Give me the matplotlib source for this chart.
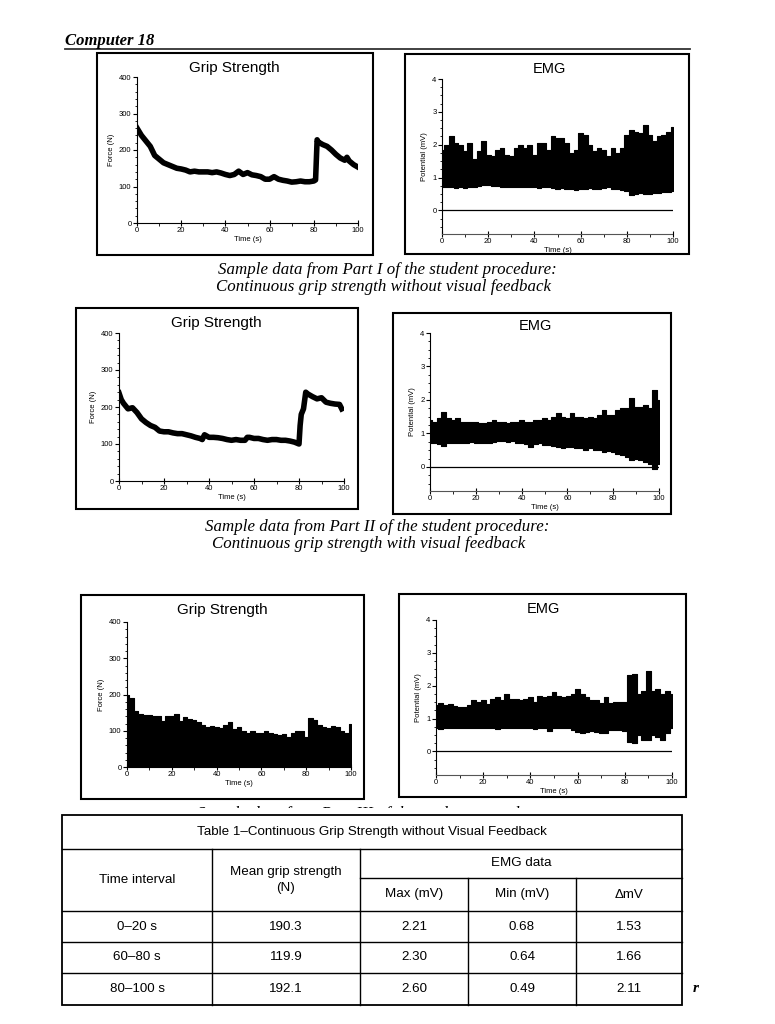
import numpy as np
import matplotlib.pyplot as plt
from matplotlib.patches import Rectangle
from matplotlib.ticker import MultipleLocator

plt.rcParams['font.family'] = ['Liberation Sans', 'DejaVu Sans']

# --- data ---
# Part I grip strength (N)
g1_t = [0, 2, 4, 6, 8, 10, 12, 14, 16, 18, 20, 22, 24, 26, 28, 30, 32, 34, 36, 38,
        40, 42, 44, 46, 48, 50, 52, 54, 56, 58, 60, 62, 64, 66, 68, 70, 72, 74, 76, 78,
        80, 80.8, 81.5, 82, 84, 86, 88, 90, 92, 94, 95, 96, 98, 100]
g1_f = [260, 240, 225, 210, 185, 175, 165, 160, 155, 150, 148, 145, 140, 142, 140, 140, 140, 138, 140, 137,
        133, 130, 133, 142, 133, 138, 132, 130, 127, 120, 120, 127, 120, 117, 115, 112, 113, 115, 113, 113,
        115, 118, 228, 222, 215, 210, 200, 188, 178, 172, 180, 170, 160, 153]

# Part II grip strength (N)
g2_t = [0, 1, 2, 4, 6, 8, 10, 12, 14, 16, 18, 20, 22, 24, 26, 28, 30, 32, 34, 36, 37, 38,
        40, 42, 44, 46, 48, 50, 52, 54, 56, 57, 58, 60, 62, 64, 66, 68, 70, 72, 74, 76, 78, 80,
        80.5, 81, 82, 83, 84, 86, 88, 90, 92, 94, 96, 98, 99]
g2_f = [238, 220, 210, 195, 198, 185, 168, 158, 150, 145, 135, 133, 133, 130, 128, 128, 125, 122, 118, 115, 112, 125,
        118, 118, 117, 115, 112, 110, 112, 110, 110, 118, 118, 115, 115, 112, 110, 112, 112, 110, 110, 108, 105, 100,
        150, 180, 195, 240, 235, 228, 222, 225, 213, 210, 208, 207, 195]

# 2 s grid for the dense traces
t2 = np.arange(0, 101, 2)

# Part III grip strength, upper envelope of the filled trace (N)
g3_top = [200, 190, 155, 145, 143, 143, 140, 140, 128, 140,
          140, 145, 128, 137, 133, 130, 125, 115, 110, 112,
          110, 108, 115, 125, 105, 110, 100, 95, 100, 93,
          95, 98, 95, 92, 87, 92, 82, 95, 98, 100,
          82, 135, 130, 115, 110, 108, 112, 110, 100, 95, 118]

# EMG envelopes (mV)
e1_hi = [1.85, 2.0, 2.25, 2.05, 2.0, 1.8, 2.05, 1.55, 1.8, 2.1,
         1.7, 1.65, 1.85, 1.9, 1.7, 1.65, 1.9, 2.0, 1.9, 2.0,
         1.7, 2.05, 2.05, 1.85, 2.25, 2.2, 2.2, 2.05, 1.75, 1.85,
         2.35, 2.3, 2.0, 1.8, 1.9, 1.85, 1.65, 1.9, 1.75, 1.9,
         2.3, 2.45, 2.4, 2.35, 2.6, 2.3, 2.1, 2.25, 2.3, 2.4, 2.55]
e1_lo = [0.72, 0.7, 0.7, 0.68, 0.7, 0.68, 0.7, 0.72, 0.75, 0.78,
         0.78, 0.75, 0.73, 0.72, 0.72, 0.72, 0.72, 0.72, 0.7, 0.72,
         0.7, 0.68, 0.7, 0.7, 0.68, 0.66, 0.68, 0.65, 0.65, 0.62,
         0.65, 0.65, 0.68, 0.66, 0.65, 0.68, 0.7, 0.66, 0.66, 0.62,
         0.58, 0.48, 0.5, 0.52, 0.5, 0.5, 0.52, 0.52, 0.55, 0.55, 0.58]

e2_hi = [1.4, 1.35, 1.45, 1.65, 1.45, 1.4, 1.45, 1.35, 1.35, 1.35,
         1.35, 1.3, 1.3, 1.35, 1.4, 1.35, 1.35, 1.3, 1.35, 1.35,
         1.4, 1.35, 1.35, 1.4, 1.4, 1.45, 1.4, 1.5, 1.6, 1.5,
         1.45, 1.6, 1.5, 1.5, 1.45, 1.5, 1.45, 1.55, 1.7, 1.55,
         1.55, 1.7, 1.75, 1.75, 2.05, 1.8, 1.8, 1.85, 1.75, 2.3, 2.0]
e2_lo = [0.72, 0.7, 0.68, 0.62, 0.7, 0.7, 0.72, 0.72, 0.72, 0.75,
         0.72, 0.72, 0.72, 0.7, 0.75, 0.78, 0.78, 0.75, 0.78, 0.72,
         0.7, 0.68, 0.6, 0.68, 0.7, 0.65, 0.65, 0.62, 0.6, 0.55,
         0.6, 0.58, 0.55, 0.55, 0.5, 0.55, 0.5, 0.5, 0.45, 0.48,
         0.45, 0.4, 0.35, 0.3, 0.22, 0.25, 0.2, 0.15, 0.1, -0.05, 0.1]

e3_hi = [1.4, 1.48, 1.4, 1.45, 1.38, 1.35, 1.35, 1.4, 1.55, 1.5,
         1.55, 1.45, 1.6, 1.65, 1.55, 1.75, 1.6, 1.58, 1.55, 1.58,
         1.65, 1.5, 1.68, 1.65, 1.68, 1.8, 1.68, 1.65, 1.68, 1.75,
         1.9, 1.75, 1.65, 1.55, 1.55, 1.48, 1.65, 1.48, 1.5, 1.5,
         1.5, 2.32, 2.35, 1.75, 1.85, 2.45, 1.85, 1.9, 1.75, 1.85, 1.75]
e3_lo = [0.7, 0.68, 0.7, 0.72, 0.7, 0.7, 0.72, 0.72, 0.72, 0.72,
         0.72, 0.7, 0.72, 0.68, 0.7, 0.72, 0.72, 0.72, 0.7, 0.72,
         0.72, 0.68, 0.7, 0.7, 0.62, 0.7, 0.7, 0.72, 0.7, 0.65,
         0.6, 0.55, 0.58, 0.62, 0.6, 0.55, 0.55, 0.65, 0.65, 0.65,
         0.62, 0.28, 0.25, 0.5, 0.35, 0.35, 0.5, 0.45, 0.35, 0.55, 0.7]

# Table 1
table_title = 'Table 1–Continuous Grip Strength without Visual Feedback'
intervals = ['0–20 s', '60–80 s', '80–100 s']
mean_grip = [190.3, 119.9, 192.1]
emg_max = [2.21, 2.30, 2.60]
emg_min = [0.68, 0.64, 0.49]
emg_delta = [1.53, 1.66, 2.11]

captions = [
    ('Sample data from Part I of the student procedure:',
     'Continuous grip strength without visual feedback'),
    ('Sample data from Part II of the student procedure:',
     'Continuous grip strength with visual feedback'),
]

W, H = 775, 1024
fig = plt.figure(figsize=(W / 100, H / 100), dpi=100)

# page layer in pixel coordinates (frames, captions, table)
page = fig.add_axes([0, 0, 1, 1], zorder=-1)
page.set_xlim(0, W)
page.set_ylim(H, 0)
page.axis('off')


def add_axes_px(x0, x1, ytop, ybot):
    return fig.add_axes([x0 / W, 1 - ybot / H, (x1 - x0) / W, (ybot - ytop) / H])


def frame(x0, y0, x1, y1):
    page.add_patch(Rectangle((x0, y0), x1 - x0, y1 - y0, fill=False, lw=1.5, ec='black'))


def style(ax, kind):
    ax.spines['top'].set_visible(False)
    ax.spines['right'].set_visible(False)
    ax.set_xlim(0, 100)
    ax.xaxis.set_major_locator(MultipleLocator(20))
    ax.xaxis.set_minor_locator(MultipleLocator(10))
    if kind == 'grip':
        ax.set_ylim(0, 400)
        ax.yaxis.set_major_locator(MultipleLocator(100))
        ax.yaxis.set_minor_locator(MultipleLocator(20))
        ax.set_ylabel('Force (N)', fontsize=5.5, labelpad=3)
    else:
        ax.set_ylim(-0.72, 4)
        ax.yaxis.set_major_locator(MultipleLocator(1))
        ax.yaxis.set_minor_locator(MultipleLocator(0.25))
        ax.set_ylabel('Potential (mV)', fontsize=5.5, labelpad=3)
        ax.spines['bottom'].set_linestyle((0, (1, 1)))
        ax.spines['bottom'].set_color('#555555')
    ax.tick_params(labelsize=5.5, length=3, width=0.8, pad=1)
    ax.tick_params(axis='x', direction='inout', length=4)
    ax.tick_params(which='minor', length=1.8, width=0.6)
    ax.set_xlabel('Time (s)', fontsize=5.5, labelpad=1)
    ax.set_facecolor('none')


def grip_line(ax, t, f):
    ax.plot(t, f, color='black', lw=4.0, solid_joinstyle='round')


def emg_fill(ax, lo, hi):
    ax.fill_between(t2, lo, hi, step='mid', color='black', lw=0.8, ec='black')
    ax.hlines(0, 0, 100, color='black', lw=0.9)


# header
page.text(65, 45, 'Computer 18', family='Liberation Serif', weight='bold', style='italic',
          fontsize=12, va='baseline')
page.plot([65, 690], [49, 49], color='#333333', lw=1.3)

# ---- Part I ----
frame(97, 53, 373, 255)
ax = add_axes_px(137, 358, 77, 223)
style(ax, 'grip')
grip_line(ax, g1_t, g1_f)
page.text(234, 68, 'Grip Strength', fontsize=11, ha='center', va='center')

frame(405, 54, 689, 254)
ax = add_axes_px(442, 673, 79, 234)
style(ax, 'emg')
emg_fill(ax, e1_lo, e1_hi)
page.text(549, 69, 'EMG', fontsize=10.5, ha='center', va='center')

# ---- Part II ----
frame(76, 308, 358, 509)
ax = add_axes_px(119, 344, 333, 481)
style(ax, 'grip')
grip_line(ax, g2_t, g2_f)
page.text(216, 323, 'Grip Strength', fontsize=11, ha='center', va='center')

frame(393, 313, 671, 514)
ax = add_axes_px(430, 659, 333, 491)
style(ax, 'emg')
emg_fill(ax, e2_lo, e2_hi)
page.text(535, 326, 'EMG', fontsize=10.5, ha='center', va='center')

# ---- Part III ----
frame(81, 595, 364, 799)
ax = add_axes_px(127, 351, 622, 767)
style(ax, 'grip')
ax.fill_between(t2, 0, g3_top, step='mid', color='black', lw=0.8, ec='black')
page.text(222, 610, 'Grip Strength', fontsize=11, ha='center', va='center')

frame(399, 594, 686, 797)
ax = add_axes_px(436, 672, 620, 775)
style(ax, 'emg')
emg_fill(ax, e3_lo, e3_hi)
page.text(543, 609, 'EMG', fontsize=10.5, ha='center', va='center')

# captions
cap_y = [(270, 287), (527, 544)]
cap_x = [(387, 384), (377, 369)]
for (l1, l2), (y1, y2), (x1, x2) in zip(captions, cap_y, cap_x):
    page.text(x1, y1, l1, family='Liberation Serif', style='italic', fontsize=12.2, ha='center', va='center')
    page.text(x2, y2, l2, family='Liberation Serif', style='italic', fontsize=12.2, ha='center', va='center')
# third caption is almost entirely covered by the pasted table
page.text(372, 814, 'Sample data from Part III of the student procedure:', family='Liberation Serif',
          style='italic', fontsize=12.2, ha='center', va='center', zorder=1)
page.add_patch(Rectangle((55, 808), 640, 10, fc='white', ec='none', zorder=1.5))

# ---- table ----
tx = [62, 212, 360, 468, 576, 682]
ty = [815, 849, 878, 911, 942, 973, 1005]
page.add_patch(Rectangle((tx[0], ty[0]), tx[-1] - tx[0], ty[-1] - ty[0], fc='white', ec='black', lw=1.3, zorder=2))
lk = dict(color='black', lw=1.0, zorder=3)
for y in [ty[1], ty[3], ty[4], ty[5]]:
    page.plot([tx[0], tx[-1]], [y, y], **lk)
page.plot([tx[2], tx[-1]], [ty[2], ty[2]], **lk)
for x in tx[1:3]:
    page.plot([x, x], [ty[1], ty[-1]], **lk)
for x in tx[3:5]:
    page.plot([x, x], [ty[2], ty[-1]], **lk)

tk = dict(fontsize=9.6, ha='center', va='center', zorder=4)
page.text((tx[0] + tx[-1]) / 2, (ty[0] + ty[1]) / 2, table_title, **tk)
page.text((tx[0] + tx[1]) / 2, (ty[1] + ty[3]) / 2, 'Time interval', **tk)
page.text((tx[1] + tx[2]) / 2, (ty[1] + ty[3]) / 2, 'Mean grip strength\n(N)', linespacing=1.4, **tk)
page.text((tx[2] + tx[-1]) / 2, (ty[1] + ty[2]) / 2, 'EMG data', **tk)
for i, h in enumerate(['Max (mV)', 'Min (mV)', 'ΔmV']):
    page.text((tx[2 + i] + tx[3 + i]) / 2, (ty[2] + ty[3]) / 2, h, **tk)
for r in range(3):
    yc = (ty[3 + r] + ty[4 + r]) / 2
    row = [intervals[r], f'{mean_grip[r]:.1f}', f'{emg_max[r]:.2f}', f'{emg_min[r]:.2f}', f'{emg_delta[r]:.2f}']
    for c, s in enumerate(row):
        page.text((tx[c] + tx[c + 1]) / 2, yc, s, **tk)

page.text(696, 988, 'r', family='Liberation Serif', style='italic', weight='bold', fontsize=11,
          ha='center', va='center')

fig.savefig('out.png', dpi=100, facecolor='white')
